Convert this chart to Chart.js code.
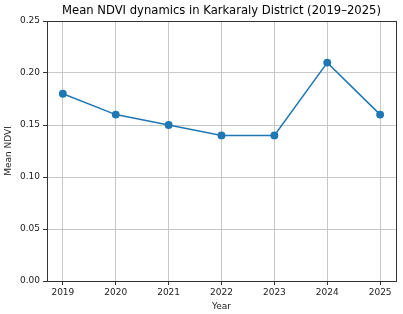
<!DOCTYPE html>
<html><head><meta charset="utf-8">
<script src="https://cdn.jsdelivr.net/npm/chart.js@4/dist/chart.umd.min.js"></script>
<style>html,body{margin:0;padding:0;background:#fff}#c{display:block}</style>
</head><body>
<canvas id="c" width="403" height="314"></canvas>
<script>
const years = [2019, 2020, 2021, 2022, 2023, 2024, 2025];
const ndvi = [0.18, 0.16, 0.15, 0.14, 0.14, 0.21, 0.16];
const yTicks = [0, 0.05, 0.10, 0.15, 0.20, 0.25];
const titleText = 'Mean NDVI dynamics in Karkaraly District (2019–2025)';
const FONT = 'DejaVu Sans';

const framePlugin = {
  id: 'frame',
  afterDraw(chart) {
    const {ctx, chartArea: a} = chart;
    ctx.save();
    ctx.strokeStyle = '#333';
    ctx.lineWidth = 1;
    ctx.strokeRect(Math.round(a.left) + 0.5, Math.round(a.top) + 0.5, Math.round(a.right - a.left), Math.round(a.bottom - a.top));
    ctx.fillStyle = '#000';
    ctx.font = '11.6px "' + FONT + '"';
    ctx.textAlign = 'center';
    ctx.textBaseline = 'middle';
    ctx.fillText(titleText, (a.left + a.right) / 2, 11);
    ctx.restore();
  }
};

new Chart(document.getElementById('c'), {
  type: 'line',
  data: {
    datasets: [{
      data: years.map((y, i) => ({x: y, y: ndvi[i]})),
      borderColor: '#1f77b4',
      backgroundColor: '#1f77b4',
      borderWidth: 1.5,
      pointRadius: 3.2,
      pointHoverRadius: 3.2,
      tension: 0
    }]
  },
  options: {
    responsive: false,
    animation: false,
    layout: {padding: {top: 21, right: 7, left: 0, bottom: 0}},
    plugins: {legend: {display: false}, tooltip: {enabled: false}, title: {display: false}},
    scales: {
      x: {
        type: 'linear',
        min: 2018.7, max: 2025.3,
        afterBuildTicks: s => { s.ticks = years.map(v => ({value: v})); },
        afterFit: s => { s.height = 33; },
        grid: {color: '#c8c8c8', lineWidth: 1, tickColor: '#333', tickLength: 4, drawTicks: true},
        border: {display: false},
        ticks: {color: '#222', font: {family: FONT, size: 9}, padding: 2, maxRotation: 0, callback: v => String(v)},
        title: {display: true, text: 'Year', color: '#222', font: {family: FONT, size: 9}, padding: {top: 0, bottom: 2}}
      },
      y: {
        min: 0, max: 0.25,
        afterBuildTicks: s => { s.ticks = yTicks.map(v => ({value: v})); },
        afterFit: s => { s.width = 47; },
        grid: {color: '#c8c8c8', lineWidth: 1, tickColor: '#333', tickLength: 4, drawTicks: true},
        border: {display: false},
        ticks: {color: '#222', font: {family: FONT, size: 9}, padding: 3, callback: v => v.toFixed(2)},
        title: {display: true, text: 'Mean NDVI', color: '#222', font: {family: FONT, size: 9}, padding: {top: 3, bottom: 0}}
      }
    }
  },
  plugins: [framePlugin]
});
</script>
</body></html>
